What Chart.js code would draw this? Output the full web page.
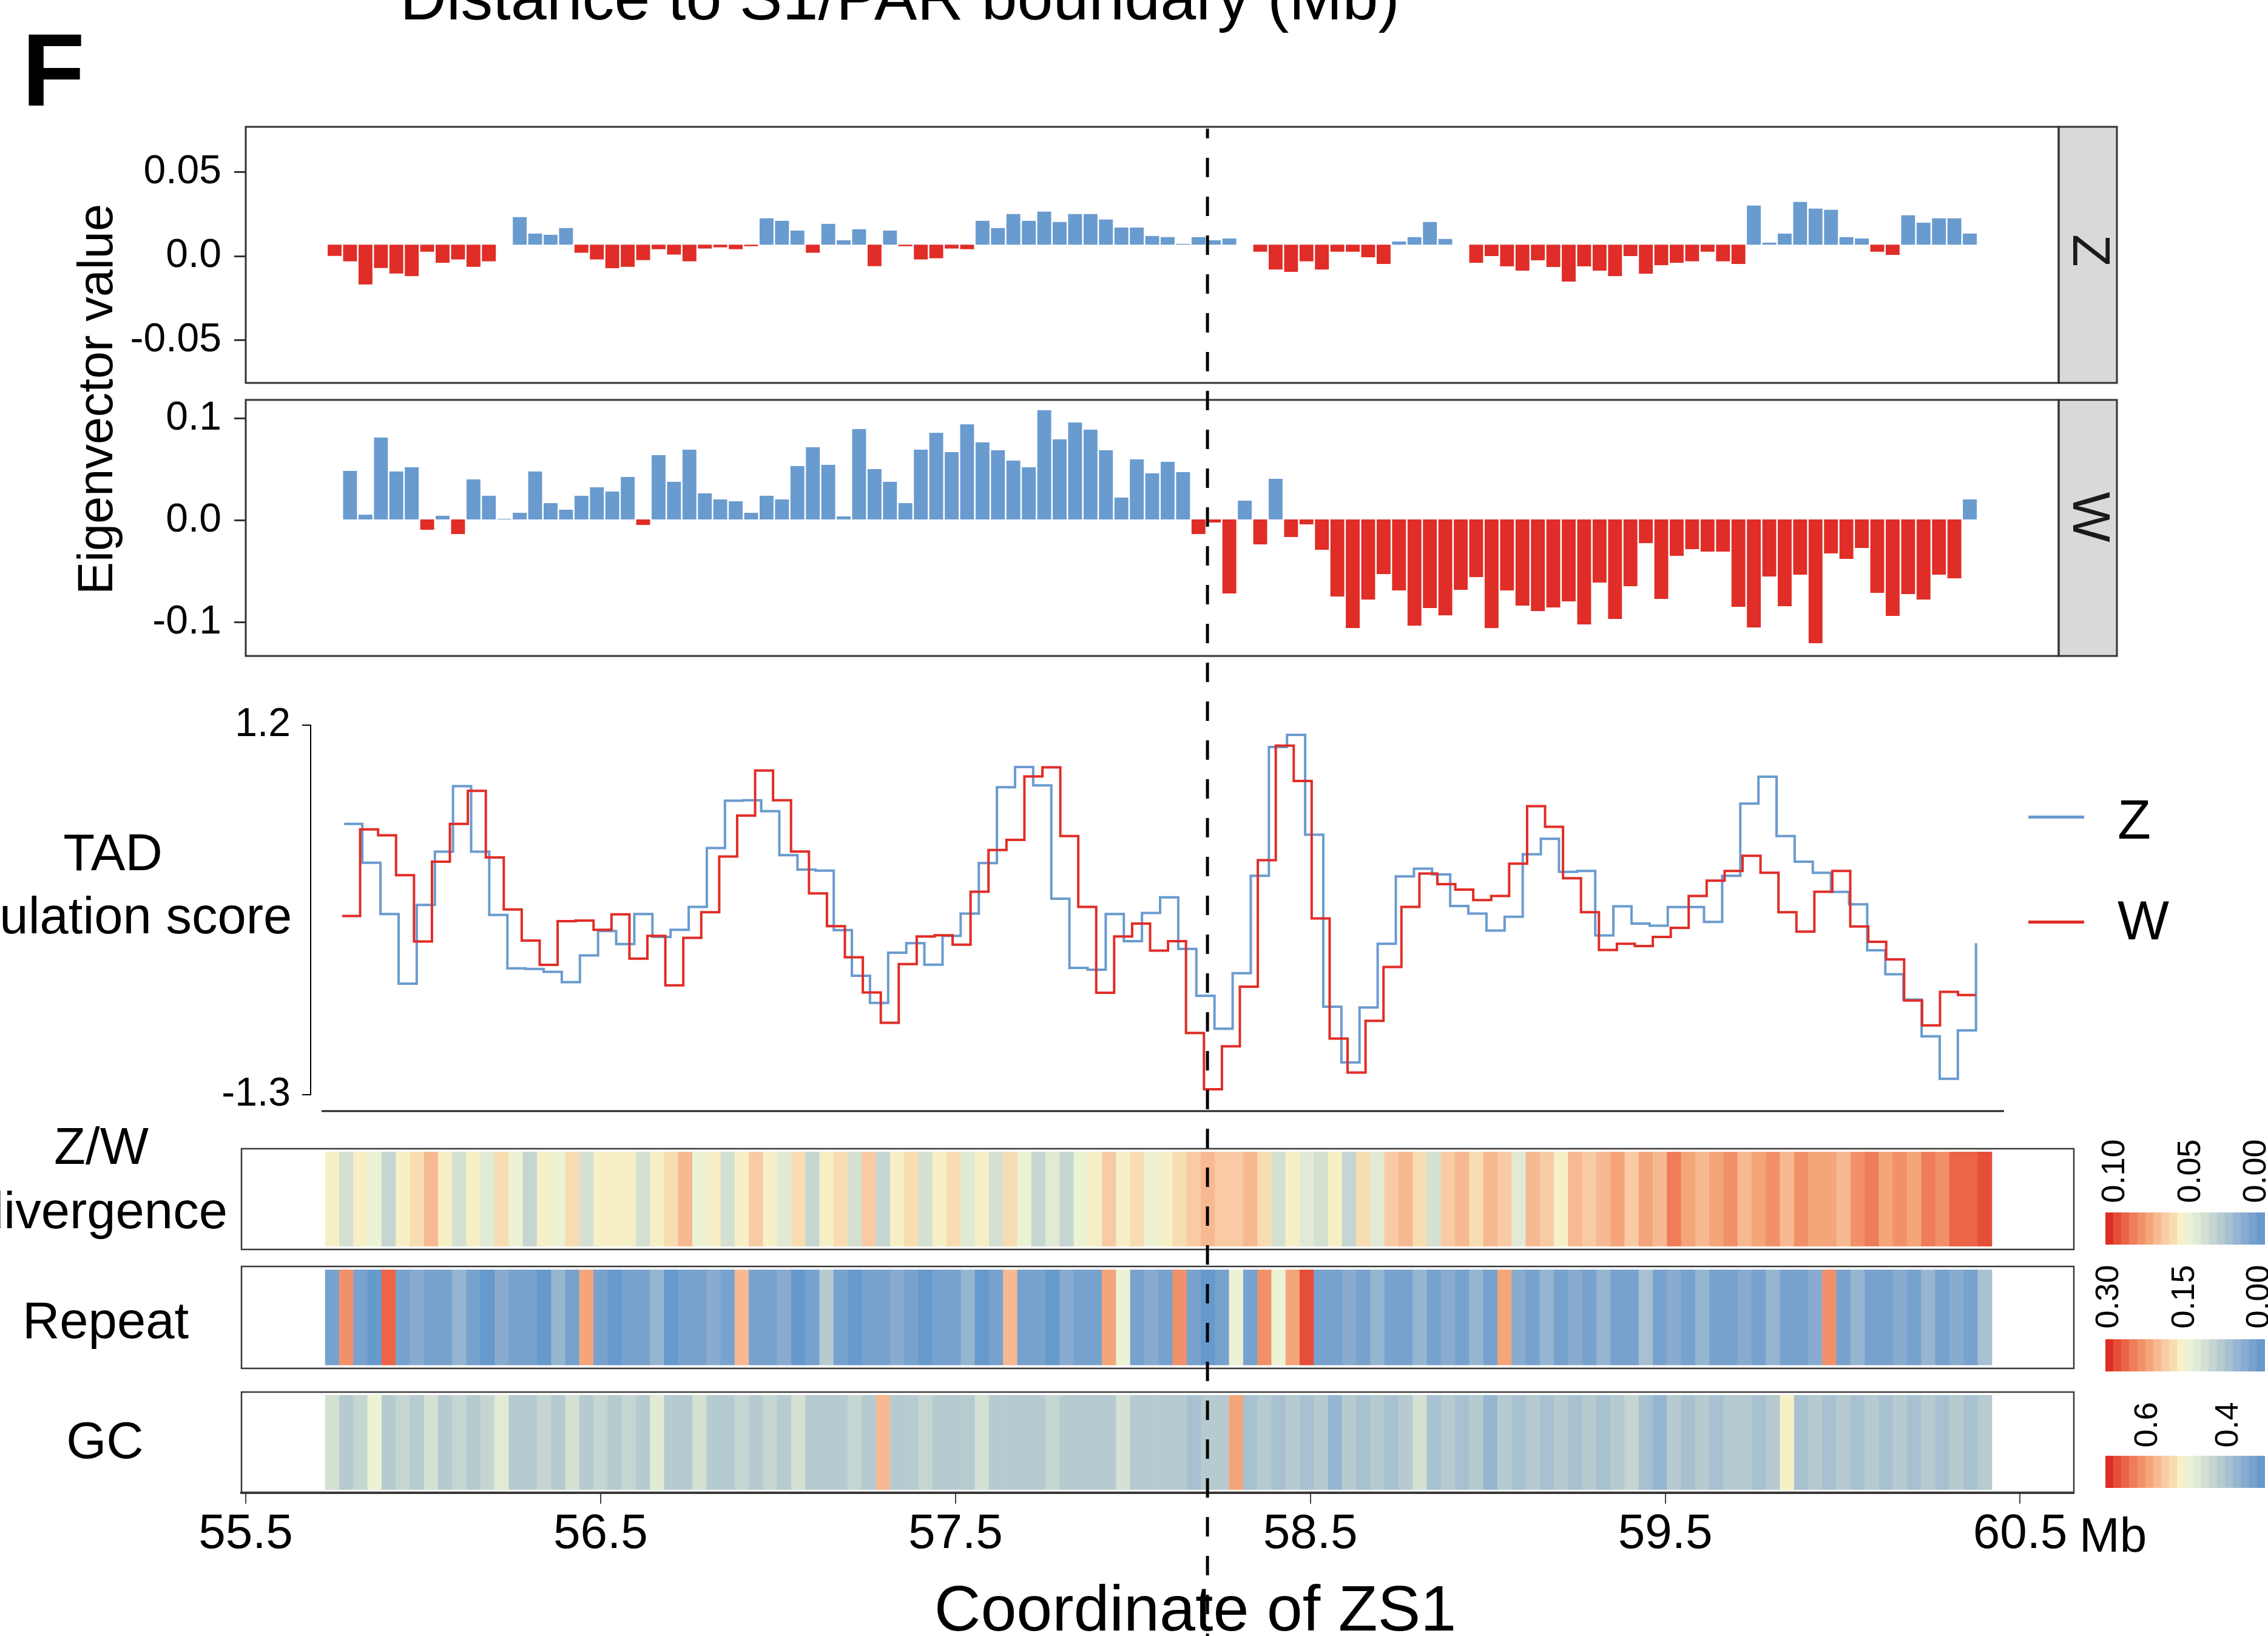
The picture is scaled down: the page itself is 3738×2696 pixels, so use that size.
<!DOCTYPE html>
<html>
<head>
<meta charset="utf-8">
<script src="https://cdn.jsdelivr.net/npm/chart.js@4.4.1/dist/chart.umd.min.js"></script>
<style>
  html, body { margin: 0; padding: 0; background: #fff; }
  body { width: 3738px; height: 2696px; position: relative; overflow: hidden;
         font-family: 'Liberation Sans', Arial, sans-serif; color: #000; }
  canvas { position: absolute; display: block; }
  .txt { position: absolute; white-space: nowrap; line-height: 1; }
  .c { transform: translateX(-50%); }
  .rot { transform: translate(-50%, -50%) rotate(-90deg); }
</style>
</head>
<body>

<div class="txt c" style="left:1483px;top:-58px;font-size:106px">Distance to S1/PAR boundary (Mb)</div>
<div class="txt" style="left:36px;top:30px;font-size:170px;font-weight:bold">F</div>
<div class="txt rot" style="left:157px;top:658px;font-size:81px">Eigenvector value</div>
<div class="txt c" style="left:186px;top:1362px;font-size:85px">TAD</div>
<div class="txt c" style="left:186px;top:1466px;font-size:85px">insulation score</div>
<div class="txt c" style="left:167px;top:1846px;font-size:85px">Z/W</div>
<div class="txt c" style="left:167px;top:1952px;font-size:85px">divergence</div>
<div class="txt c" style="left:174px;top:2133px;font-size:85px">Repeat</div>
<div class="txt c" style="left:173px;top:2331px;font-size:85px">GC</div>
<div class="txt" style="left:3427px;top:2490px;font-size:80px">Mb</div>
<div class="txt c" style="left:1970px;top:2597px;font-size:106px">Coordinate of ZS1</div>

<div style="position:absolute;left:3343px;top:1344px;width:92px;height:5px;background:#6A9BCF"></div>
<div class="txt" style="left:3490px;top:1306px;font-size:90px">Z</div>
<div style="position:absolute;left:3343px;top:1517px;width:92px;height:5px;background:#E02D27"></div>
<div class="txt" style="left:3490px;top:1472px;font-size:90px">W</div>

<canvas id="zChart" width="3493" height="442" style="left:0;top:199px"></canvas>
<canvas id="wChart" width="3493" height="442" style="left:0;top:649px"></canvas>
<canvas id="tadChart" width="3310" height="700" style="left:0;top:1150px"></canvas>
<canvas id="zwHeat" width="3032" height="178" style="left:392px;top:1887px"></canvas>
<canvas id="repHeat" width="3032" height="180" style="left:392px;top:2081px"></canvas>
<canvas id="gcHeat" width="3220" height="302" style="left:298px;top:2288px"></canvas>
<canvas id="zwBar" width="263" height="53" style="left:3470px;top:1998px"></canvas>
<canvas id="repBar" width="263" height="53" style="left:3470px;top:2207px"></canvas>
<canvas id="gcBar" width="263" height="53" style="left:3470px;top:2399px"></canvas>
<canvas id="overlay" width="3738" height="2696" style="left:0;top:0;z-index:10;pointer-events:none"></canvas>

<script>
// ---------- data ----------
var boundaryMb = 58.21;

// eigenvector bins (Mb)
var eigStart = 55.7505;
var eigStep = 0.04347;
var zEigen = [
  0.0002, -0.0030, -0.0168, -0.0070, -0.0103, -0.0118, 0.0027, -0.0039, -0.0019, -0.0063,
  -0.0030, 0.0069, 0.0233, 0.0135, 0.0128, 0.0168, 0.0021, -0.0019, -0.0071, -0.0063,
  -0.0023, 0.0042, 0.0010, -0.0030, 0.0046, 0.0053, 0.0042, 0.0060, 0.0226, 0.0211,
  0.0153, 0.0021, 0.0193, 0.0095, 0.0161, -0.0059, 0.0153, 0.0060, -0.0019, -0.0012,
  0.0046, 0.0042, 0.0211, 0.0168, 0.0251, 0.0211, 0.0266, 0.0204, 0.0251, 0.0251,
  0.0219, 0.0171, 0.0171, 0.0121, 0.0114, 0.0074, 0.0114, 0.0095, 0.0106, 0.0069,
  0.0027, -0.0079, -0.0093, -0.0030, -0.0079, 0.0027, 0.0027, -0.0006, -0.0046, 0.0088,
  0.0114, 0.0204, 0.0103, 0.0069, -0.0039, 0.0001, -0.0060, -0.0086, -0.0024, -0.0064,
  -0.0151, -0.0060, -0.0086, -0.0118, 0.0001, -0.0104, -0.0053, -0.0039, -0.0030, 0.0027,
  -0.0030, -0.0046, 0.0302, 0.0081, 0.0135, 0.0324, 0.0284, 0.0277, 0.0114, 0.0106,
  0.0027, 0.0008, 0.0244, 0.0200, 0.0226, 0.0226, 0.0135
];
var wEigen = [
  null, 0.0485, 0.0057, 0.0812, 0.0479, 0.0521, -0.0091, 0.0046, -0.0133, 0.0402,
  0.0242, 0.0016, 0.0075, 0.0479, 0.0170, 0.0105, 0.0242, 0.0325, 0.0283, 0.0426,
  -0.0044, 0.0640, 0.0378, 0.0693, 0.0265, 0.0206, 0.0188, 0.0075, 0.0242, 0.0206,
  0.0533, 0.0717, 0.0545, 0.0040, 0.0895, 0.0503, 0.0378, 0.0170, 0.0693, 0.0859,
  0.0669, 0.0942, 0.0764, 0.0687, 0.0586, 0.0521, 0.1079, 0.0794, 0.0960, 0.0889,
  0.0687, 0.0224, 0.0598, 0.0461, 0.0574, 0.0473, -0.0133, -0.0020, -0.0715, 0.0194,
  -0.0234, 0.0408, -0.0162, -0.0038, -0.0287, -0.0744, -0.1053, -0.0774, -0.0525, -0.0685,
  -0.1030, -0.0857, -0.0929, -0.0679, -0.0554, -0.1053, -0.0685, -0.0834, -0.0887, -0.0851,
  -0.0792, -0.1018, -0.0608, -0.0964, -0.0644, -0.0222, -0.0768, -0.0347, -0.0281, -0.0305,
  -0.0305, -0.0845, -0.1047, -0.0548, -0.0840, -0.0531, -0.1202, -0.0323, -0.0376, -0.0269,
  -0.0709, -0.0935, -0.0721, -0.0774, -0.0531, -0.0566, 0.0206
];
var zBase = 0.0069;
var wBase = 0.001;
var zTicks = [-0.05, 0, 0.05];
var wTicks = [-0.1, 0, 0.1];

// TAD insulation score, 50kb steps
var tadStartZ = 55.7775, tadStepZ = 0.05109;
var tadStartW = 55.7718, tadStepW = 0.05059;
var tadZ = [
  0.532, 0.269, -0.078, -0.549, -0.016, 0.344, 0.787, 0.344, -0.084, -0.445,
  -0.449, -0.469, -0.538, -0.358, -0.193, -0.281, -0.078, -0.233, -0.184, -0.029,
  0.369, 0.689, 0.692, 0.618, 0.320, 0.223, 0.216, -0.186, -0.495, -0.679,
  -0.339, -0.275, -0.420, -0.226, -0.075, 0.267, 0.780, 0.917, 0.793, 0.026,
  -0.442, -0.454, -0.078, -0.261, -0.071, 0.035, -0.314, -0.631, -0.854, -0.478,
  0.181, 1.052, 1.134, 0.459, -0.705, -1.081, -0.710, -0.279, 0.177, 0.229,
  0.190, -0.023, -0.075, -0.190, -0.096, 0.327, 0.431, 0.208, 0.214, -0.222,
  -0.025, -0.142, -0.157, -0.031, -0.031, -0.131, 0.181, 0.669, 0.851, 0.450,
  0.276, 0.201, 0.072, -0.012, -0.323, -0.485, -0.657, -0.905, -1.192, -0.865,
  -0.275
];
var tadW = [
  -0.091, 0.495, 0.455, 0.185, -0.263, 0.276, 0.532, 0.756, 0.305, -0.047,
  -0.257, -0.421, -0.126, -0.122, -0.184, -0.080, -0.379, -0.226, -0.560, -0.239,
  -0.065, 0.311, 0.588, 0.893, 0.692, 0.345, 0.062, -0.160, -0.370, -0.608,
  -0.814, -0.416, -0.230, -0.221, -0.285, 0.073, 0.355, 0.424, 0.853, 0.915,
  0.450, -0.029, -0.610, -0.230, -0.142, -0.325, -0.261, -0.882, -1.263, -0.973,
  -0.569, 0.287, 1.061, 0.822, -0.107, -0.920, -1.150, -0.800, -0.436, -0.029,
  0.196, 0.124, 0.088, 0.017, 0.044, 0.263, 0.652, 0.512, 0.165, -0.065,
  -0.321, -0.279, -0.294, -0.233, -0.171, 0.044, 0.148, 0.214, 0.316, 0.201,
  -0.065, -0.197, 0.073, 0.214, -0.162, -0.266, -0.385, -0.663, -0.831, -0.604,
  -0.626, -0.626
];
var tadTicks = [-1.3, 1.2];

// heatmap tracks
var hmStart = 55.744, hmStep = 0.0398;
var zwDivergence = [
  0.053, 0.036, 0.055, 0.048, 0.032, 0.054, 0.057, 0.066, 0.052, 0.038,
  0.054, 0.045, 0.056, 0.050, 0.034, 0.053, 0.047, 0.057, 0.040, 0.054,
  0.052, 0.055, 0.037, 0.053, 0.056, 0.068, 0.049, 0.054, 0.036, 0.055,
  0.061, 0.052, 0.042, 0.056, 0.035, 0.053, 0.058, 0.040, 0.063, 0.033,
  0.052, 0.056, 0.038, 0.054, 0.057, 0.044, 0.055, 0.036, 0.060, 0.048,
  0.034, 0.042, 0.031, 0.050, 0.055, 0.064, 0.053, 0.056, 0.050, 0.055,
  0.057, 0.063, 0.066, 0.065, 0.063, 0.066, 0.058, 0.040, 0.052, 0.045,
  0.038, 0.054, 0.035, 0.058, 0.044, 0.064, 0.068, 0.060, 0.040, 0.062,
  0.066, 0.058, 0.069, 0.063, 0.045, 0.067, 0.064, 0.055, 0.070, 0.065,
  0.068, 0.072, 0.064, 0.074, 0.069, 0.083, 0.072, 0.066, 0.073, 0.076,
  0.068, 0.073, 0.077, 0.066, 0.079, 0.071, 0.074, 0.069, 0.078, 0.081,
  0.072, 0.079, 0.075, 0.083, 0.080, 0.087, 0.090, 0.091
];
var repeatFrac = [
  0.02, 0.24, 0.03, 0.01, 0.26, 0.02, 0.04, 0.02, 0.03, 0.06,
  0.02, 0.01, 0.04, 0.02, 0.03, 0.01, 0.05, 0.02, 0.22, 0.03,
  0.01, 0.03, 0.02, 0.05, 0.01, 0.03, 0.02, 0.04, 0.02, 0.20,
  0.03, 0.02, 0.04, 0.01, 0.03, 0.09, 0.02, 0.01, 0.03, 0.02,
  0.04, 0.02, 0.01, 0.03, 0.02, 0.05, 0.01, 0.03, 0.21, 0.02,
  0.03, 0.01, 0.04, 0.02, 0.03, 0.22, 0.15, 0.02, 0.04, 0.03,
  0.23, 0.02, 0.01, 0.03, 0.14, 0.03, 0.24, 0.15, 0.22, 0.28,
  0.03, 0.02, 0.04, 0.03, 0.05, 0.02, 0.03, 0.06, 0.03, 0.04,
  0.03, 0.05, 0.02, 0.22, 0.04, 0.03, 0.06, 0.02, 0.04, 0.03,
  0.05, 0.02, 0.03, 0.07, 0.03, 0.04, 0.02, 0.06, 0.03, 0.03,
  0.04, 0.03, 0.06, 0.03, 0.02, 0.04, 0.23, 0.03, 0.05, 0.03,
  0.03, 0.04, 0.03, 0.06, 0.03, 0.04, 0.03, 0.07
];
var gcFrac = [
  0.45, 0.42, 0.43, 0.49, 0.41, 0.43, 0.40, 0.44, 0.42, 0.43,
  0.41, 0.43, 0.47, 0.40, 0.42, 0.43, 0.41, 0.44, 0.42, 0.43,
  0.40, 0.43, 0.42, 0.47, 0.41, 0.42, 0.44, 0.40, 0.42, 0.43,
  0.41, 0.43, 0.42, 0.45, 0.40, 0.42, 0.41, 0.43, 0.42, 0.56,
  0.42, 0.40, 0.43, 0.41, 0.42, 0.42, 0.45, 0.40, 0.42, 0.41,
  0.42, 0.43, 0.40, 0.42, 0.41, 0.42, 0.44, 0.41, 0.42, 0.40,
  0.42, 0.39, 0.41, 0.41, 0.59, 0.38, 0.41, 0.39, 0.42, 0.38,
  0.40, 0.37, 0.41, 0.39, 0.42, 0.38, 0.40, 0.45, 0.39, 0.41,
  0.38, 0.40, 0.37, 0.41, 0.39, 0.42, 0.38, 0.40, 0.39, 0.41,
  0.38, 0.40, 0.43, 0.39, 0.37, 0.41, 0.39, 0.40, 0.38, 0.42,
  0.40, 0.38, 0.41, 0.51, 0.39, 0.40, 0.38, 0.42, 0.39, 0.41,
  0.38, 0.40, 0.39, 0.41, 0.38, 0.40, 0.39, 0.41
];
var zwRange = [0, 0.10];
var repeatRange = [0, 0.30];
var gcRange = [0.3, 0.7];
var xTicks = [55.5, 56.5, 57.5, 58.5, 59.5, 60.5];
var zwBarTicks = ['0.10', '0.05', '0.00'];
var repeatBarTicks = ['0.30', '0.15', '0.00'];
var gcBarTicks = ['0.6', '0.4'];

// ---------- styles ----------
var BLUE = '#6A9BCF';
var RED = '#E02D27';
var palette = ['#DD2D26', '#E54E38', '#EB6546', '#EF7D5A', '#F29169', '#F4A57A', '#F7B991',
  '#F8CBA5', '#F8DCB2', '#F7F0C6', '#ECF2D4', '#E0EAD5', '#D4E0D2', '#C5D6D2', '#B6CBD0',
  '#A7C1D1', '#96B5D0', '#88ABCF', '#78A2CE', '#6699CC'];

function paletteColor(v, range) {
  var k = Math.floor((range[1] - v) / (range[1] - range[0]) * palette.length);
  return palette[Math.max(0, Math.min(palette.length - 1, k))];
}

Chart.defaults.font.family = "'Liberation Sans', Arial, sans-serif";
Chart.defaults.color = '#000';
Chart.defaults.animation = false;
Chart.defaults.responsive = false;
Chart.defaults.plugins.legend.display = false;
Chart.defaults.plugins.tooltip.enabled = false;

// grey facet strip on the right of the eigenvector panels
var stripPlugin = {
  id: 'strip',
  defaults: { label: '', width: 96, shift: 0 },
  afterDraw: function (chart, args, o) {
    if (!o.label) return;
    var a = chart.chartArea, ctx = chart.ctx, h = a.bottom - a.top;
    ctx.save();
    ctx.fillStyle = '#D9D9D9';
    ctx.fillRect(a.right, a.top, o.width, h);
    ctx.strokeStyle = '#333';
    ctx.lineWidth = 3;
    ctx.strokeRect(a.right, a.top, o.width, h);
    ctx.translate(a.right + o.width / 2, a.top + h / 2 + o.shift);
    ctx.rotate(Math.PI / 2);
    ctx.fillStyle = '#1a1a1a';
    ctx.font = "88px 'Liberation Sans'";
    ctx.textAlign = 'center';
    ctx.textBaseline = 'middle';
    ctx.fillText(o.label, 0, 0);
    ctx.restore();
  }
};
var framePlugin = {
  id: 'frame',
  defaults: { width: 0, color: '#333' },
  afterDraw: function (chart, args, o) {
    if (!o.width) return;
    var a = chart.chartArea, ctx = chart.ctx;
    ctx.save();
    ctx.strokeStyle = o.color;
    ctx.lineWidth = o.width;
    ctx.strokeRect(a.left, a.top, a.right - a.left, a.bottom - a.top);
    ctx.restore();
  }
};
// loose x axis line under the TAD panel
var baseLinePlugin = {
  id: 'baseLine',
  defaults: { offset: 0, inset: 0 },
  afterDraw: function (chart, args, o) {
    if (!o.offset) return;
    var a = chart.chartArea, ctx = chart.ctx, y = a.bottom + o.offset;
    ctx.save();
    ctx.strokeStyle = '#222';
    ctx.lineWidth = 3;
    ctx.beginPath();
    ctx.moveTo(a.left + o.inset, y);
    ctx.lineTo(a.right, y);
    ctx.stroke();
    ctx.restore();
  }
};
Chart.register(stripPlugin, framePlugin, baseLinePlugin);

// fixed-width y axis that does not push the plot area down
function fixedWidth(w) {
  return function (s) { s.width = w; s.paddingTop = 0; s.paddingBottom = 0; };
}

function eigenChart(id, values, base, yMin, yMax, ticks, fmt, label, shift) {
  return new Chart(document.getElementById(id), {
    type: 'bar',
    data: {
      datasets: [{
        data: values.map(function (v, i) { return { x: eigStart + i * eigStep, y: v }; }),
        base: base,
        backgroundColor: values.map(function (v) { return v < base ? RED : BLUE; }),
        borderWidth: 0,
        barPercentage: 0.9,
        categoryPercentage: 1
      }]
    },
    options: {
      layout: { padding: { top: 10, bottom: 10, left: 0, right: 100 } },
      scales: {
        x: { type: 'linear', min: 55.5, max: 60.6087, offset: false, display: false },
        y: {
          min: yMin, max: yMax,
          afterFit: fixedWidth(405),
          afterBuildTicks: function (s) { s.ticks = ticks.map(function (v) { return { value: v }; }); },
          ticks: { callback: fmt, font: { size: 66 }, padding: 21, color: '#000' },
          grid: { drawOnChartArea: false, tickLength: 19, lineWidth: 3, color: '#333' },
          border: { display: false }
        }
      },
      plugins: { strip: { label: label, width: 96, shift: shift }, frame: { width: 3, color: '#333' } }
    }
  });
}

eigenChart('zChart', zEigen, zBase, -0.07543, 0.07709, zTicks,
  function (v) { return v === 0 ? '0.0' : v.toFixed(2); }, 'Z', -7);
eigenChart('wChart', wEigen, wBase, -0.13268, 0.11806, wTicks,
  function (v) { return v === 0 ? '0.0' : v.toFixed(1); }, 'W', -18);

new Chart(document.getElementById('tadChart'), {
  type: 'line',
  data: {
    datasets: [
      {
        label: 'W',
        data: tadW.map(function (v, i) { return { x: tadStartW + i * tadStepW, y: v }; }),
        borderColor: RED, borderWidth: 4, stepped: 'before', pointRadius: 0, fill: false, order: 0
      },
      {
        label: 'Z',
        data: tadZ.map(function (v, i) { return { x: tadStartZ + i * tadStepZ, y: v }; }),
        borderColor: BLUE, borderWidth: 4, stepped: 'before', pointRadius: 0, fill: false, order: 1
      }
    ]
  },
  options: {
    layout: { padding: { top: 45, bottom: 46, left: 0, right: 7 } },
    scales: {
      x: { type: 'linear', min: 55.68294, max: 60.4547, display: false },
      y: {
        min: -1.3, max: 1.2,
        afterFit: fixedWidth(512),
        afterBuildTicks: function (s) { s.ticks = tadTicks.map(function (v) { return { value: v }; }); },
        ticks: { callback: function (v) { return v.toFixed(1); }, font: { size: 66 }, padding: 19, color: '#000' },
        grid: { drawOnChartArea: false, tickLength: 14, lineWidth: 2, color: '#000' },
        border: { display: true, color: '#000', width: 2 }
      }
    },
    plugins: { baseLine: { offset: 27, inset: 18 } }
  }
});

function heatChart(id, values, range, withAxis) {
  var x = { type: 'linear', min: 55.48803, max: 60.65131, offset: false, display: false };
  if (withAxis) {
    x = {
      type: 'linear', min: 55.48803, max: 60.65131, offset: false,
      afterFit: function (s) { s.height = 130; },
      afterBuildTicks: function (s) { s.ticks = xTicks.map(function (v) { return { value: v }; }); },
      ticks: { callback: function (v) { return v.toFixed(1); }, font: { size: 80 }, padding: 3,
               maxRotation: 0, autoSkip: false, color: '#000' },
      grid: { drawOnChartArea: false, tickLength: 18, lineWidth: 2, color: '#444', offset: false },
      border: { display: true, color: '#333', width: 4 }
    };
  }
  return new Chart(document.getElementById(id), {
    type: 'bar',
    data: {
      datasets: [{
        data: values.map(function (v, i) { return { x: hmStart + i * hmStep, y: [0, 1] }; }),
        backgroundColor: values.map(function (v) { return paletteColor(v, range); }),
        borderWidth: 0,
        barPercentage: 1,
        categoryPercentage: 1
      }]
    },
    options: {
      layout: { padding: withAxis ? { top: 6, left: 100, right: 100, bottom: 0 } : 6 },
      scales: { x: x, y: { min: -0.035, max: 1.035, display: false } },
      plugins: { frame: { width: 2.5, color: '#3a3a3a' } }
    }
  });
}

heatChart('zwHeat', zwDivergence, zwRange, false);
heatChart('repHeat', repeatFrac, repeatRange, false);
heatChart('gcHeat', gcFrac, gcRange, true);

function colorBar(id) {
  return new Chart(document.getElementById(id), {
    type: 'bar',
    data: {
      labels: palette.map(function (c, i) { return i; }),
      datasets: [{
        data: palette.map(function () { return [0, 1]; }),
        backgroundColor: palette,
        borderWidth: 0, barPercentage: 1, categoryPercentage: 1
      }]
    },
    options: {
      layout: { padding: 0 },
      scales: { x: { display: false }, y: { min: 0, max: 1, display: false } }
    }
  });
}
colorBar('zwBar');
colorBar('repBar');
colorBar('gcBar');

// colour key labels, written upwards
var keyLabels = [
  { ticks: zwBarTicks, xs: [3482, 3607, 3715], y: 1930 },
  { ticks: repeatBarTicks, xs: [3472, 3597, 3720], y: 2137 },
  { ticks: gcBarTicks, xs: [3536, 3669], y: 2348 }
];
keyLabels.forEach(function (set) {
  set.ticks.forEach(function (t, i) {
    var d = document.createElement('div');
    d.className = 'txt rot';
    d.style.left = set.xs[i] + 'px';
    d.style.top = set.y + 'px';
    d.style.fontSize = '54px';
    d.textContent = t;
    document.body.appendChild(d);
  });
});

// dashed boundary line over every panel
new Chart(document.getElementById('overlay'), {
  type: 'line',
  data: {
    datasets: [{
      data: [{ x: boundaryMb, y: 1 }, { x: boundaryMb, y: 0 }],
      borderColor: '#000', borderWidth: 5, borderDash: [32, 32], borderDashOffset: 16, pointRadius: 0
    }]
  },
  options: {
    layout: { padding: { top: 212, left: 0, right: 0, bottom: 0 } },
    scales: {
      x: { type: 'linear', min: 54.80757, max: 61.19843, display: false },
      y: { min: 0, max: 1, display: false }
    }
  }
});
</script>
</body>
</html>
